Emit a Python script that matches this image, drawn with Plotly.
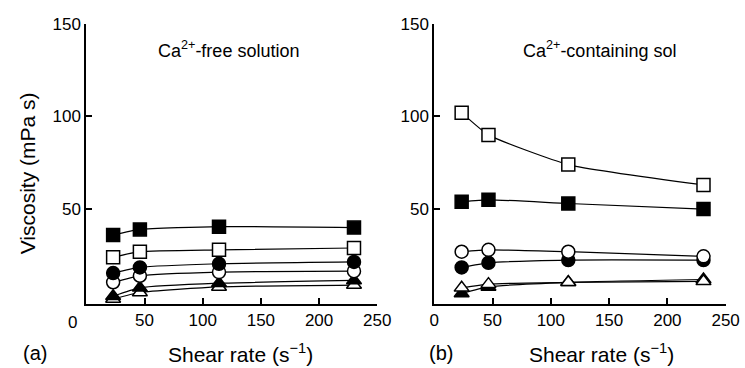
import plotly.graph_objects as go

# Shear rates (s^-1) at which viscosity was measured
shear_free = [23, 46, 114, 230]
shear_ca = [23.5, 46.5, 115, 231]

# Viscosity (mPa s) in Ca2+-free solution
free_sq_filled = [36, 39, 40.5, 40]
free_sq_open = [24, 27, 28, 29]
free_circ_filled = [15.5, 18.5, 20.5, 21.5]
free_circ_open = [10.5, 14, 16, 16.5]
free_tri_filled = [3, 7.5, 10, 11.5]
free_tri_open = [1.5, 5, 8, 9]

# Viscosity (mPa s) in Ca2+-containing solution
ca_sq_open = [102, 90, 74, 63]
ca_sq_filled = [54, 55, 53, 50]
ca_circ_open = [27, 28, 27, 24.5]
ca_circ_filled = [18.5, 21, 22.5, 22.5]
ca_tri_filled = [4.5, 8, 10.5, 12]
ca_tri_open = [7.5, 9.5, 10.5, 11]

x_ticks = [50, 100, 150, 200, 250]
y_ticks = [50, 100, 150]

FONT = "Liberation Sans, Arial, sans-serif"

series_free = [
    (free_tri_open, "triangle-up", "white"),
    (free_tri_filled, "triangle-up", "black"),
    (free_circ_open, "circle", "white"),
    (free_circ_filled, "circle", "black"),
    (free_sq_open, "square", "white"),
    (free_sq_filled, "square", "black"),
]
series_ca = [
    (ca_tri_filled, "triangle-up", "black"),
    (ca_tri_open, "triangle-up", "white"),
    (ca_circ_filled, "circle", "black"),
    (ca_circ_open, "circle", "white"),
    (ca_sq_filled, "square", "black"),
    (ca_sq_open, "square", "white"),
]

fig = go.Figure()


def add_series(xs, ys, symbol, fill, xa, ya):
    fig.add_trace(go.Scatter(
        x=xs, y=ys, mode="lines+markers", xaxis=xa, yaxis=ya,
        line=dict(color="black", width=1.2, shape="spline", smoothing=0.5),
        marker=dict(symbol=symbol, size=13, color=fill,
                    line=dict(color="black", width=1.5)),
        cliponaxis=False, hoverinfo="skip",
    ))


for ys, sym, fill in series_free:
    add_series(shear_free, ys, sym, fill, "x", "y")
for ys, sym, fill in series_ca:
    add_series(shear_ca, ys, sym, fill, "x2", "y2")

ydom = [1 - 302 / 368, 1 - 15 / 368]
axis_common = dict(
    showline=True, linecolor="black", linewidth=2, showgrid=False, zeroline=False,
    ticks="inside", ticklen=6, tickwidth=1.5, tickcolor="black",
    tickfont=dict(family=FONT, size=17, color="black"),
)

fig.update_layout(
    width=745, height=368,
    margin=dict(l=0, r=0, t=0, b=0),
    paper_bgcolor="white", plot_bgcolor="white",
    showlegend=False,
    xaxis=dict(domain=[83.5 / 745, 382 / 745], range=[0, 250],
               tickvals=x_ticks, anchor="y", **axis_common),
    yaxis=dict(domain=ydom, range=[-1, 150], tickvals=y_ticks,
               anchor="x", **axis_common),
    xaxis2=dict(domain=[440.5 / 745, 739.5 / 745], range=[0, 250],
                tickvals=[0] + x_ticks, anchor="y2", **axis_common),
    yaxis2=dict(domain=ydom, range=[-1, 150], tickvals=y_ticks,
                anchor="x2", **axis_common),
)


def note(text, x_px, y_px, size, angle=0):
    fig.add_annotation(
        text=text, x=x_px / 745, y=1 - y_px / 368, xref="paper", yref="paper",
        showarrow=False, textangle=angle,
        font=dict(family=FONT, size=size, color="black"),
        xanchor="center", yanchor="middle",
    )


note("Ca<sup>2+</sup>-free solution", 229, 42, 18)
note("Ca<sup>2+</sup>-containing sol", 610, 42, 18)
note("Viscosity (mPa s)", 23, 168, 21, angle=-90)
note("Shear rate (s<sup>−1</sup>)", 242, 353, 21)
note("Shear rate (s<sup>−1</sup>)", 612, 353, 21)
note("(a)", 31, 353, 20)
note("(b)", 447, 353, 20)
note("0", 69, 321, 17)

fig.write_html("out.html")
